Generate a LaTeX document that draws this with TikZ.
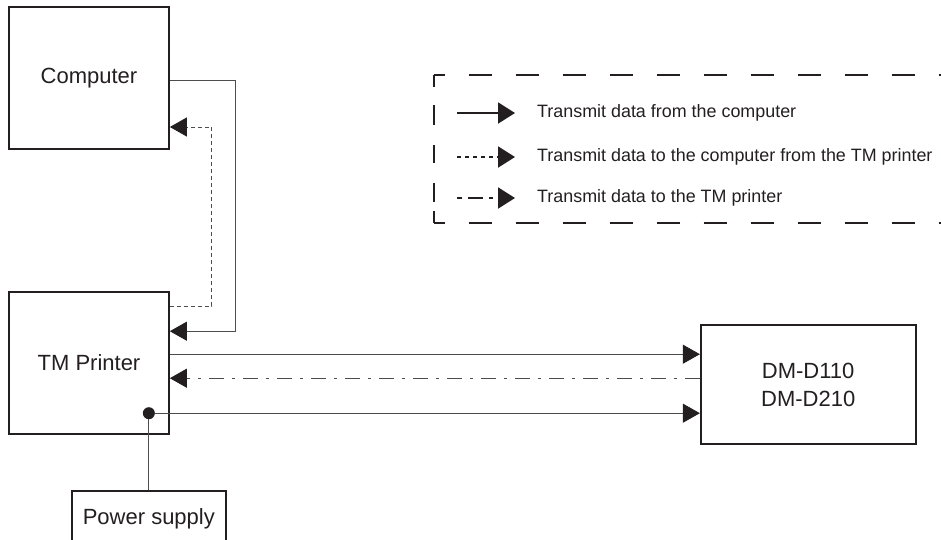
\documentclass[tikz,border=0pt]{standalone}
\usepackage{fontspec}
\setmainfont{Liberation Sans}
\usetikzlibrary{arrows.meta, positioning}
\definecolor{inkDark}{HTML}{231F20}
\definecolor{wireGray}{HTML}{4D4D4D}
\tikzset{
  tipT/.style={-{Triangle[length=17pt, width=19pt, color=inkDark]}},
  wireS/.style={tipT, wireGray, line width=0.9pt},
  wireDot/.style={tipT, wireGray, line width=0.9pt, dash pattern=on 4pt off 3pt},
  wireDD/.style={tipT, wireGray, line width=0.9pt,
                 dash pattern=on 15pt off 8pt on 3pt off 8pt},
  boxU/.style={rectangle, draw=inkDark, line width=1.7pt, text=inkDark, align=center,
               font=\fontsize{22}{28}\selectfont, inner sep=0pt,
               minimum width=160pt, minimum height=142pt},
  dotJ/.style={circle, fill=inkDark, minimum size=12pt, inner sep=0pt},
  legT/.style={anchor=west, inner sep=0pt, text=inkDark, font=\fontsize{17.9}{20}\selectfont},
  legS/.style={-{Triangle[length=17pt, width=21pt]}, inkDark, line width=2pt},
  legDot/.style={legS, dash pattern=on 4pt off 4pt},
  legDD/.style={legS, dash pattern=on 5pt off 6pt on 15pt off 6pt on 4pt off 5pt},
  frameD/.style={inkDark, line width=1.7pt, dash pattern=on 23.5pt off 23.5pt, dash phase=12.5pt},
}
\begin{document}
\begin{tikzpicture}[x=1pt, y=-1pt, node distance=141pt and 530pt]
    \clip (0,0) rectangle (941,539);
    % devices
    \node[boxU] (comp) at (89,78) {Computer};
    \node[boxU, below=of comp] (tmp) {TM Printer};
    \node[boxU, right=of tmp, yshift=-22pt, minimum width=215pt, minimum height=119pt]
          (dm) {DM-D110\\DM-D210};
    \node[dotJ] (jct) at ([xshift=-21pt, yshift=-50.5pt]tmp.east) {};
    \node[boxU, below=71pt of jct, minimum width=154pt, minimum height=56pt]
          (psu) {Power supply};
    % connections
    \draw[wireS] ([yshift=-2pt]comp.east) -- ++(66,0) |- ([yshift=31.5pt]tmp.east);
    \draw[wireDot] ([yshift=56.5pt]tmp.east) -- ++(42,0) |- ([yshift=-49pt]comp.east);
    \draw[wireS] ([yshift=8.5pt]tmp.east) -- ([yshift=8.5pt]tmp.east -| dm.west);
    \draw[wireDD] ([yshift=-15.5pt]tmp.east -| dm.west) -- ([yshift=-15.5pt]tmp.east);
    \draw[wireS] (jct) -- (jct -| dm.west);
    \draw[wireGray, line width=0.9pt] (jct) -- (psu);
    % legend
    \node[legT] (legA) at (537,113) {Transmit data from the computer};
    \node[legT] (legB) at (537,157) {Transmit data to the computer from the TM printer};
    \node[legT] (legC) at (537,198) {Transmit data to the TM printer};
    \draw[legS] ([xshift=-80pt]legA.west) -- ([xshift=-22pt]legA.west);
    \draw[legDot] ([xshift=-80pt]legB.west) -- ([xshift=-22pt]legB.west);
    \draw[legDD] ([xshift=-80pt]legC.west) -- ([xshift=-22pt]legC.west);
    \draw[frameD] (434,75) -- (960,75);
    \draw[frameD] (434,223) -- (960,223);
    \draw[inkDark, line width=1.7pt, dash pattern=on 12pt off 18pt on 20pt off 20pt
          on 18pt off 20pt on 19pt off 9pt on 12pt off 50pt] (434,75) -- (434,223);
  \end{tikzpicture}
\end{document}
